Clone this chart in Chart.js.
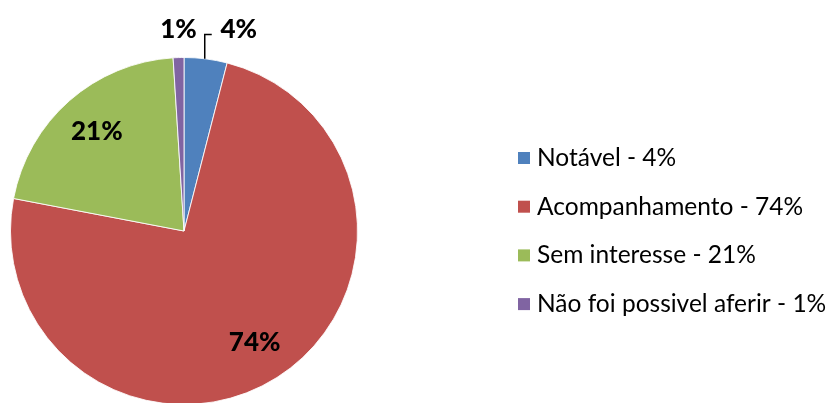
<!DOCTYPE html>
<html>
<head>
<meta charset="utf-8">
<script src="https://cdn.jsdelivr.net/npm/chart.js@4"></script>
<style>
  html, body { margin: 0; padding: 0; background: #fff; }
  #wrap { width: 830px; height: 403px; overflow: hidden; position: relative; }
  #wrap canvas { position: absolute; left: 0; top: 0; }
</style>
</head>
<body>
<div id="wrap"><canvas id="pieChart" width="830" height="420"></canvas></div>
<script>
const categories = ["Notável", "Acompanhamento", "Sem interesse", "Não foi possivel aferir"];
const percents = [4, 74, 21, 1];
const colors = ["#4F81BD", "#C0504D", "#9BBB59", "#8064A2"];

const FONT = "Lato, 'Open Sans', sans-serif";

// slice labels + right-hand legend, drawn after the pie
const labelsPlugin = {
  id: "pieLabels",
  afterDatasetsDraw(chart) {
    const ctx = chart.ctx;
    const arcs = chart.getDatasetMeta(0).data;
    ctx.save();
    ctx.fillStyle = "#000";
    ctx.font = "900 26px " + FONT;
    ctx.textAlign = "center";
    ctx.textBaseline = "middle";
    arcs.forEach((arc, i) => {
      const p = arc.getProps(["x", "y", "startAngle", "endAngle", "outerRadius"], true);
      const mid = (p.startAngle + p.endAngle) / 2;
      const txt = percents[i] + "%";
      const ex = p.x + Math.cos(mid) * p.outerRadius;
      const ey = p.y + Math.sin(mid) * p.outerRadius;
      if (percents[i] < 2) {
        ctx.fillText(txt, ex, p.y - p.outerRadius - 28);
      } else if (percents[i] < 10) {
        const ly = p.y - p.outerRadius - 23;
        ctx.strokeStyle = "#000";
        ctx.lineWidth = 1.5;
        ctx.beginPath();
        ctx.moveTo(ex - 1, ey);
        ctx.lineTo(ex - 1, ly);
        ctx.lineTo(ex + 6, ly);
        ctx.stroke();
        ctx.fillText(txt, ex + 33, p.y - p.outerRadius - 28);
      } else {
        const r = p.outerRadius * 0.76;
        ctx.fillText(txt, p.x + Math.cos(mid) * r, p.y + Math.sin(mid) * r);
      }
    });

    // legend
    ctx.textAlign = "left";
    ctx.font = "24.5px " + FONT;
    categories.forEach((c, i) => {
      const cy = 158 + i * 48.7;
      ctx.fillStyle = colors[i];
      ctx.fillRect(518, cy - 6, 12, 12);
      ctx.fillStyle = "#000";
      ctx.fillText(c + " - " + percents[i] + "%", 537, cy);
    });
    ctx.restore();
  }
};

new Chart(document.getElementById("pieChart").getContext("2d"), {
  type: "pie",
  data: {
    labels: categories,
    datasets: [{
      data: percents,
      backgroundColor: colors,
      borderColor: "rgba(255,255,255,0.85)",
      borderWidth: 1
    }]
  },
  options: {
    responsive: false,
    animation: false,
    layout: { padding: { left: 10, right: 472, top: 57, bottom: 15 } },
    plugins: {
      legend: { display: false },
      tooltip: { enabled: false }
    }
  },
  plugins: [labelsPlugin]
});
</script>
</body>
</html>
